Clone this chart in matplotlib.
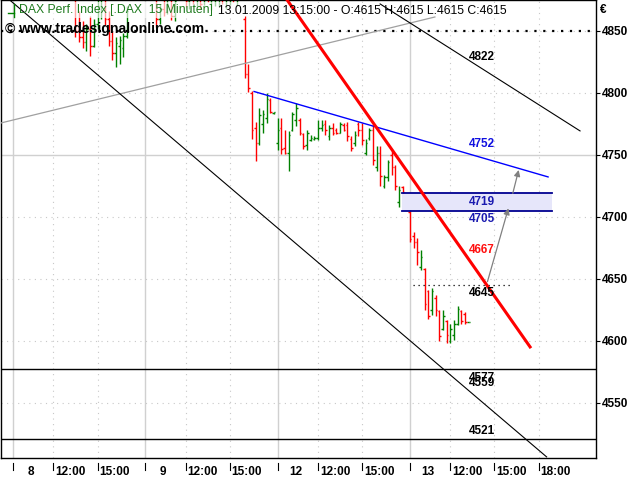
import numpy as np
import matplotlib
matplotlib.use('Agg')
import matplotlib.pyplot as plt
from matplotlib.patches import Rectangle
from matplotlib.transforms import blended_transform_factory

plt.rcParams['font.family'] = ['Liberation Sans', 'DejaVu Sans']

# 15 minute bars, x = bar slot (36 slots per trading day, day 8 starts at slot 0)
bar_slot = [17, 18, 19, 20, 21, 22, 23, 24, 25, 26, 27, 28, 29, 30, 31,
            39, 40, 41, 42, 43, 44,
            47, 48, 49, 50, 51, 52, 53, 54, 55, 56, 57, 58, 59, 60, 61,
            63, 64, 65, 66, 67, 68, 69, 70, 71,
            72, 73, 74, 75, 76, 77, 78, 79, 80, 81, 82, 83, 84, 85, 86, 87, 88, 89,
            90, 91, 92, 93, 94, 95, 96, 97, 98, 99, 100, 101, 102, 103, 104, 105, 106,
            108, 109, 110, 111, 112, 113, 114, 115, 116, 117, 118, 119, 120, 121, 122, 123, 124]
bar_open = [4880, 4850, 4845, 4841, 4852, 4838, 4856, 4870, 4878, 4860, 4842, 4832, 4838, 4836, 4846,
            4880, 4860, 4868, 4865, 4876, 4862,
            4880, 4874, 4882, 4880, 4878, 4884, 4886, 4880, 4875, 4878, 4884, 4882, 4880, 4886, 4884,
            4860, 4815, 4800, 4772, 4760, 4775, 4780, 4794, 4784,
            4760, 4772, 4756, 4752, 4770, 4778, 4778, 4767, 4758, 4762, 4763, 4764, 4772, 4775, 4765, 4772, 4770, 4768,
            4774, 4774, 4763, 4760, 4775, 4770, 4752, 4764, 4770, 4740, 4752, 4725, 4732, 4750, 4740, 4712, 4724,
            4704, 4685, 4680, 4660, 4658, 4640, 4625, 4635, 4624, 4610, 4616, 4600, 4605, 4614, 4624, 4622, 4615]
bar_high = [4886, 4866, 4858, 4856, 4862, 4860, 4875, 4884, 4882, 4866, 4850, 4845, 4846, 4848, 4870,
            4890, 4872, 4878, 4880, 4882, 4878,
            4890, 4886, 4888, 4892, 4890, 4890, 4895, 4888, 4886, 4888, 4890, 4889, 4892, 4890, 4888,
            4862, 4823, 4802, 4777, 4788, 4786, 4800, 4796, 4785,
            4780, 4780, 4770, 4769, 4785, 4792, 4780, 4768, 4770, 4766, 4765, 4778, 4778, 4778, 4774, 4776, 4772, 4777,
            4776, 4777, 4765, 4769, 4777, 4776, 4763, 4772, 4774, 4757, 4757, 4734, 4746, 4753, 4742, 4725, 4725,
            4706, 4688, 4683, 4673, 4659, 4641, 4643, 4637, 4625, 4625, 4617, 4614, 4617, 4628, 4625, 4623, 4615]
bar_low = [4845, 4841, 4836, 4834, 4830, 4837, 4852, 4860, 4855, 4838, 4827, 4821, 4823, 4829, 4844,
           4853, 4856, 4862, 4864, 4859, 4858,
           4869, 4868, 4872, 4870, 4868, 4871, 4873, 4867, 4870, 4869, 4872, 4868, 4871, 4873, 4870,
           4812, 4801, 4763, 4745, 4758, 4768, 4776, 4784, 4783,
           4754, 4751, 4751, 4737, 4769, 4773, 4766, 4755, 4754, 4761, 4762, 4762, 4769, 4766, 4762, 4766, 4767, 4768,
           4769, 4761, 4753, 4757, 4765, 4758, 4750, 4762, 4742, 4737, 4725, 4723, 4729, 4734, 4722, 4708, 4719,
           4680, 4675, 4661, 4657, 4625, 4618, 4621, 4620, 4600, 4609, 4598, 4598, 4601, 4613, 4614, 4614, 4615]
bar_close = [4850, 4845, 4841, 4852, 4838, 4856, 4870, 4878, 4860, 4842, 4832, 4840, 4843, 4846, 4866,
             4860, 4868, 4865, 4876, 4862, 4874,
             4874, 4882, 4876, 4886, 4872, 4886, 4876, 4884, 4880, 4884, 4876, 4886, 4884, 4878, 4888,
             4815, 4804, 4770, 4760, 4782, 4783, 4795, 4785, 4785,
             4770, 4755, 4752, 4766, 4783, 4788, 4768, 4757, 4768, 4764, 4764, 4772, 4774, 4770, 4772, 4768, 4768, 4775,
             4770, 4765, 4756, 4766, 4770, 4762, 4760, 4770, 4746, 4752, 4733, 4732, 4744, 4740, 4725, 4722, 4720,
             4682, 4680, 4672, 4668, 4630, 4620, 4640, 4625, 4604, 4620, 4605, 4610, 4614, 4626, 4616, 4615, 4615]

# x axis
tick_slot = [0, 11, 23, 36, 47, 59, 72, 83, 95, 108, 119, 131, 143]
tick_text = ['8', '12:00', '15:00', '9', '12:00', '15:00', '12', '12:00', '15:00',
             '13', '12:00', '15:00', '18:00']
day_slot = [0, 36, 72, 108]
price_ticks = [4550, 4600, 4650, 4700, 4750, 4800, 4850]

# drawn studies (slot, price)
red_x, red_y = [74.6, 140.7], [4875.0, 4595.2]
blue_x, blue_y = [65.6, 145.6], [4801.2, 4732.3]
black_up_x, black_up_y = [99.9, 154.3], [4871.8, 4769.4]
black_dn_x, black_dn_y = [-0.9, 145.2], [4875.0, 4506.5]
gray_x, gray_y = [-3.3, 114.8], [4775.8, 4861.3]
level_4850 = 4850
level_4645, level_4645_x = 4645, [108.8, 135.5]
zone_lo, zone_hi, zone_x = 4705, 4719, [105.9, 146.7]
hlines_full = [4577, 4521]
arrow_from = [(129.1, 4647.8), (136.0, 4719.1)]
arrow_to = [(134.8, 4707.0), (137.6, 4737.9)]

label_slot = 127.6
label_text = ['4822', '4752', '4719', '4705', '4667', '4645', '4577', '4559', '4521']
label_value = [4822, 4752, 4719, 4705, 4667, 4645, 4577, 4559, 4521]
label_above = [True, True, False, False, True, False, False, True, True]
label_color = ['black', '#1010e0', '#1a1ab0', '#1a1ab0', '#ff1010', 'black', 'black', 'black', 'black']

RED = '#ff0000'
GREEN = '#008000'

fig = plt.figure(figsize=(6.4, 4.8), dpi=100)
ax = fig.add_axes([1 / 640, 22 / 480, 595 / 640, 458 / 480])
ax.set_xlim(-3.265, 158.64)
ax.set_ylim(4505.6, 4875.0)

# grid
for p in price_ticks:
    if p == 4750:
        ax.axhline(p, color='#d0d0d0', lw=1, zorder=0)
    else:
        ax.axhline(p, color='#c8c8c8', lw=0.8, ls=(0, (1, 4)), zorder=0)
for s in tick_slot:
    if s in day_slot:
        ax.axvline(s, color='#d0d0d0', lw=1, zorder=0)
    else:
        ax.axvline(s, color='#c8c8c8', lw=0.8, ls=(0, (1, 4)), zorder=0)

# OHLC bars
bs = np.array(bar_slot, dtype=float)
bo, bh, bl, bc = map(np.array, (bar_open, bar_high, bar_low, bar_close))
cols = np.where(bc < bo, RED, GREEN)
w = 0.42
ax.vlines(bs, bl, bh, colors=cols, lw=1, zorder=2)
ax.hlines(bo, bs - w, bs, colors=cols, lw=1, zorder=2)
ax.hlines(bc, bs, bs + w, colors=cols, lw=1, zorder=2)

# zone box
ax.add_patch(Rectangle((zone_x[0], zone_lo), zone_x[1] - zone_x[0], zone_hi - zone_lo,
                       facecolor='#e6e6fa', edgecolor='none', zorder=1))
ax.plot(zone_x, [zone_hi, zone_hi], color='#000090', lw=1.3, zorder=3)
ax.plot(zone_x, [zone_lo, zone_lo], color='#000090', lw=1.3, zorder=3)

# horizontal levels
ax.axhline(level_4850, color='black', lw=1.6, ls=(0, (1, 3)), zorder=3)
for h in hlines_full:
    ax.axhline(h, color='black', lw=1, zorder=3)
ax.plot(level_4645_x, [level_4645, level_4645], color='black', lw=0.9, ls=(0, (1, 3)), zorder=3)

# trend lines
ax.plot(gray_x, gray_y, color='#a0a0a0', lw=0.9, zorder=3)
ax.plot(black_dn_x, black_dn_y, color='black', lw=0.8, zorder=3)
ax.plot(black_up_x, black_up_y, color='black', lw=0.8, zorder=3)
ax.plot(blue_x, blue_y, color='#0000ff', lw=1, zorder=3)
ax.plot(red_x, red_y, color=RED, lw=2.2, zorder=4)

for a, b in zip(arrow_from, arrow_to):
    ax.annotate('', xy=b, xytext=a,
                arrowprops=dict(arrowstyle='-|>', color='#808080', lw=0.9,
                                mutation_scale=9, shrinkA=0, shrinkB=0), zorder=4)

for t, v, up, c in zip(label_text, label_value, label_above, label_color):
    ax.annotate(t, (label_slot, v), xytext=(0, 6 if up else -6), textcoords='offset points',
                ha='center', va='center', color=c, fontsize=8.5, fontweight='bold', zorder=5)

# axes styling
for sp in ax.spines.values():
    sp.set_color('black')
    sp.set_linewidth(1)
ax.yaxis.tick_right()
ax.set_yticks(price_ticks)
ax.set_yticklabels([str(p) for p in price_ticks], fontweight='bold')
ax.tick_params(axis='y', direction='out', length=3, width=0.8, pad=1.5, labelsize=8.5)
ax.set_xticks([])

# x ticks drawn under the frame
trans = blended_transform_factory(ax.transData, fig.transFigure)
for s, t in zip(tick_slot, tick_text):
    ax.plot([s, s], [1 - 463 / 480, 1 - 470 / 480], color='black', lw=0.8,
            transform=trans, clip_on=False)
    if s in day_slot:
        ax.text(s + 18 / 3.675, 1 - 472 / 480, t, transform=trans, ha='center', va='center',
                fontsize=8.5, fontweight='bold')
    else:
        ax.text(s + 0.5, 1 - 472 / 480, t, transform=trans, ha='left', va='center',
                fontsize=8.5, fontweight='bold')

# header
ax.add_patch(Rectangle((15 / 640, 1 - 18 / 480), 230 / 640, 16 / 480, transform=fig.transFigure,
                       facecolor='white', alpha=0.65, edgecolor='none', zorder=2.5))
fig.add_artist(plt.Line2D([13.5 / 640, 13.5 / 640], [1 - 4 / 480, 1 - 17 / 480], color=GREEN, lw=1))
fig.add_artist(plt.Line2D([8 / 640, 13.5 / 640], [1 - 13 / 480, 1 - 13 / 480], color=GREEN, lw=1))
fig.text(19 / 640, 1 - 10.5 / 480, 'DAX Perf. Index [.DAX  15 Minuten]', color='#1e7a1e',
         va='center', fontsize=8.8)
fig.text(218 / 640, 1 - 10.5 / 480, '13.01.2009 13:15:00 - O:4615 H:4615 L:4615 C:4615',
         color='black', va='center', fontsize=8.8)
fig.text(5 / 640, 1 - 29 / 480, '\u00a9 www.tradesignalonline.com', color='black',
         va='center', fontsize=10.1, fontweight='bold')
fig.text(600 / 640, 1 - 10 / 480, '\u20ac', color='black', va='center', fontsize=8.5,
         fontweight='bold')

fig.savefig('out.png', dpi=100)
